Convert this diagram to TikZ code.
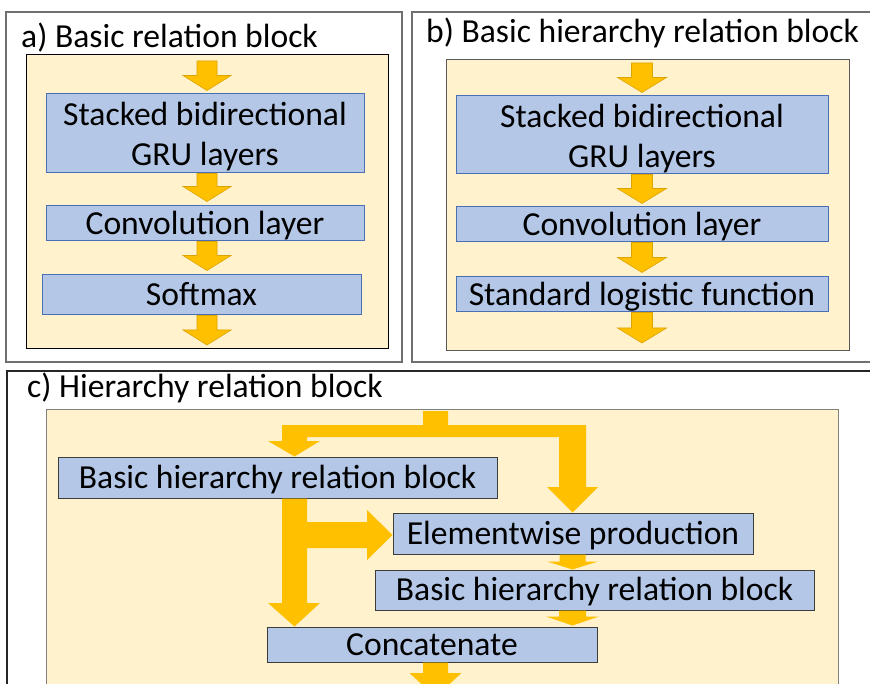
\documentclass[tikz,border=0pt]{standalone}
\usepackage{fontspec}
\setmainfont{Carlito}
\usetikzlibrary{calc}

\definecolor{framegrey}{HTML}{707070}
\definecolor{tanfill}{HTML}{FFF2CC}
\definecolor{layerfill}{HTML}{B4C7E7}
\definecolor{layerblue}{HTML}{4A6FB5}
\definecolor{layerdark}{HTML}{3C3C3C}
\definecolor{gold}{HTML}{FFC000}
\definecolor{goldedge}{HTML}{DDA400}

% block arrow pointing down: style, start, tip, shaft half-width, head half-width, head length
\newcommand\downblock[6]{%
  \filldraw[#1] let \p1=#2, \p2=#3 in
    (\x1-#4,\y1) -- (\x1+#4,\y1) -- (\x1+#4,\y2+#6) -- (\x1+#5,\y2+#6) --
    (\x1,\y2) -- (\x1-#5,\y2+#6) -- (\x1-#4,\y2+#6) -- cycle;}
% taller first line so that two-line labels sit a little lower
\newcommand\tallrow{\rule{0pt}{29.5pt}}

\begin{document}
\begin{tikzpicture}[x=1pt,y=-1pt,
  txt/.style={font=\fontsize{33.6}{40}\selectfont},
  frame/.style={draw=framegrey,line width=1.3pt},
  panel/.style={fill=tanfill,line width=1pt},
  title/.style={txt,anchor=base west,inner sep=0pt},
  layer/.style={txt,draw=layerblue,fill=layerfill,line width=1pt,inner sep=0pt,align=center},
  onerow/.style={text height=21.6pt,text depth=0pt},
  layerc/.style={layer,onerow,draw=layerdark},
  blk/.style={fill=gold,draw=goldedge,line width=0.6pt},
  blkc/.style={fill=gold,draw=none}]
\useasboundingbox (0,0) rectangle (870,684);
\clip (0,0) rectangle (870,684);
\fill[white] (0,0) rectangle (870,684);

% outer frames of the three panels
\draw[frame] (6,12) rectangle (402,362);
\draw[frame] (412,12) rectangle (876,362);
\draw[frame,draw=black!85,line width=1.1pt] (7,371) rectangle (876,700);

% yellow backgrounds
\draw[panel,draw=black] (26,55) rectangle (388,349);
\draw[panel,draw=black!65] (446,60) rectangle (849,351);
\draw[panel,draw=black!50] (46,409) rectangle (838,700);

% titles
\node[title] (ta) at (21,48) {a) Basic relation block};
\node[title] (tb) at (426,43) {b) Basic hierarchy relation block};
\node[title] (tc) at (27,397) {c) Hierarchy relation block};

% ---- a) basic relation block
\node[layer,minimum width=318,minimum height=79] (a1) at (205,133.5)
  {\tallrow Stacked bidirectional\\GRU layers};
\node[layer,onerow,minimum width=318,minimum height=35] (a2) at (205,223.5)
  {Convolution layer};
\node[layer,onerow,minimum width=319,minimum height=40] (a3) at (201.5,295)
  {Softmax};
\coordinate (ax) at (207,0);
\coordinate (ain) at (207,61);
\coordinate (aend) at (207,345);
\downblock{blk}{(ain)}{($(a1.north -| ax)+(0,-3)$)}{10pt}{24pt}{15pt}
\downblock{blk}{(a1.south -| ax)}{($(a2.north -| ax)+(0,-4)$)}{10pt}{24pt}{15pt}
\downblock{blk}{(a2.south -| ax)}{($(a3.north -| ax)+(0,-4)$)}{10pt}{24pt}{15pt}
\downblock{blk}{(a3.south -| ax)}{(aend)}{10pt}{24pt}{15pt}

% ---- b) basic hierarchy relation block
\node[layer,minimum width=372,minimum height=78] (b1) at (642,135)
  {\tallrow Stacked bidirectional\\GRU layers};
\node[layer,onerow,minimum width=372,minimum height=35] (b2) at (642,224.5)
  {Convolution layer};
\node[layer,onerow,minimum width=372,minimum height=35] (b3) at (642,294.5)
  {Standard logistic function};
\coordinate (bx) at (642,0);
\coordinate (bin) at (642,63);
\coordinate (bend) at (642,343);
\downblock{blk}{(bin)}{($(b1.north -| bx)+(0,-3)$)}{10.5pt}{24.5pt}{15pt}
\downblock{blk}{(b1.south -| bx)}{($(b2.north -| bx)+(0,-3)$)}{10.5pt}{24.5pt}{15pt}
\downblock{blk}{(b2.south -| bx)}{($(b3.north -| bx)+(0,-4)$)}{10.5pt}{24.5pt}{15pt}
\downblock{blk}{(b3.south -| bx)}{(bend)}{10.5pt}{24.5pt}{15pt}

% ---- c) hierarchy relation block
\node[layerc,minimum width=439,minimum height=41] (c1) at (277.5,477.5)
  {Basic hierarchy relation block};
\node[layerc,minimum width=360,minimum height=41] (c2) at (573,533.5)
  {Elementwise production};
\node[layerc,minimum width=439,minimum height=40] (c3) at (594.5,590)
  {Basic hierarchy relation block};
\node[layerc,minimum width=330,minimum height=35] (c4) at (432,644.5)
  {Concatenate};
\coordinate (forkL) at (294.5,0);
\coordinate (forkR) at (572.5,0);
\coordinate (midY) at (0,535);
\coordinate (cout) at (435.5,697);

% input split into both branches
\fill[blkc] (423,411) -- (448,411) -- (448,425) -- (586,425) -- (586,487) -- (598,487)
  -- (c2.north -| forkR) -- (547,487) -- (559,487) -- (559,437) -- (307,437)
  -- (307,441) -- (320,441) -- (c1.north -| forkL) -- (268,441) -- (282,441)
  -- (282,425) -- (423,425) -- cycle;
% first block output: to the product and to the concatenation
\fill[blkc] (c1.south -| 282,0) -- (c1.south -| 307,0) -- (307,522) -- (367,522) -- (367,510)
  -- (c2.west |- midY) -- (367,560) -- (367,548) -- (307,548) -- (307,603)
  -- (320,603) -- (c4.north -| forkL) -- (268,603) -- (282,603) -- cycle;
\downblock{blkc}{(c2.south -| forkR)}{(c3.north -| forkR)}{13pt}{25.5pt}{8pt}
\downblock{blkc}{(c3.south -| forkR)}{($(c4.north -| forkR)+(0,-1)$)}{13.5pt}{26.5pt}{9pt}
\downblock{blkc}{(c4.south -| cout)}{(cout)}{12.5pt}{26pt}{24pt}
\end{tikzpicture}
\end{document}
